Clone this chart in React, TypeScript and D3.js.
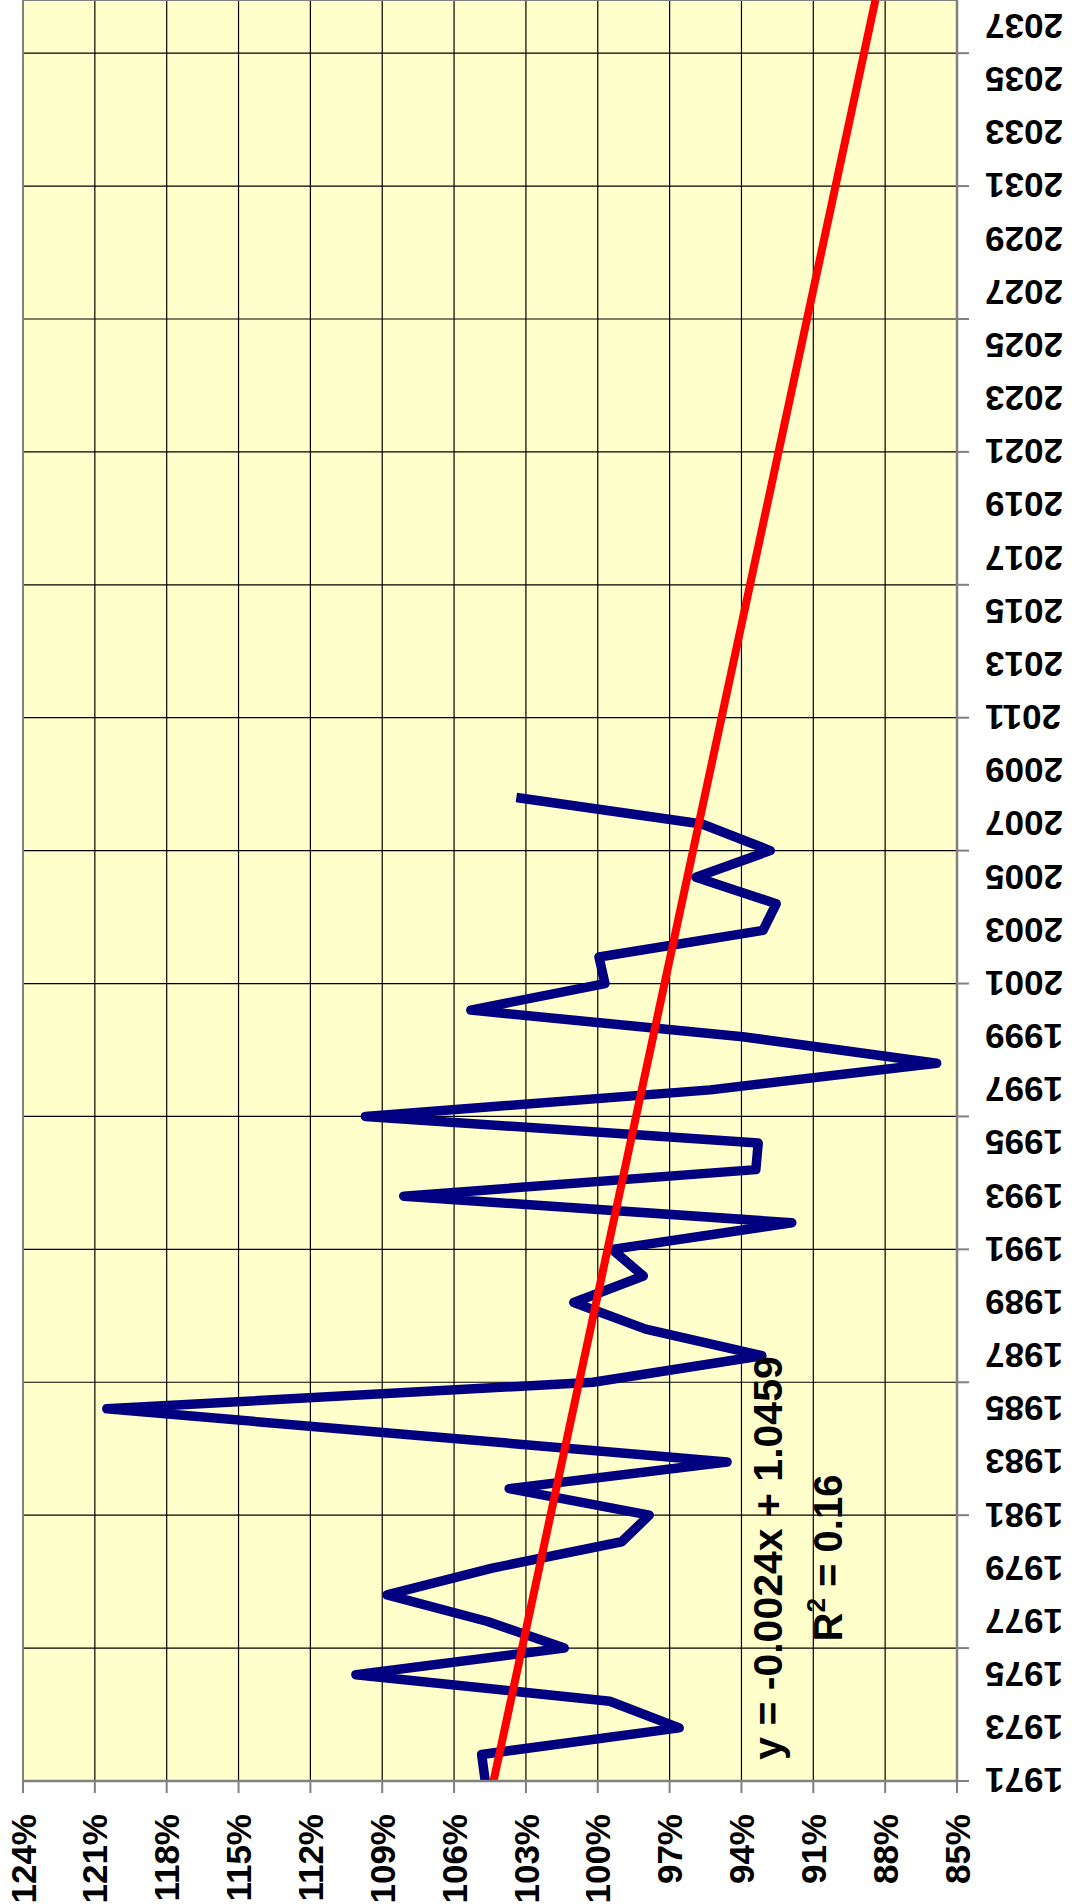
import * as d3 from "d3";

// yearly ratio (1.00 = 100%)
const years = [
  1971, 1972, 1973, 1974, 1975, 1976, 1977, 1978, 1979, 1980, 1981, 1982, 1983,
  1984, 1985, 1986, 1987, 1988, 1989, 1990, 1991, 1992, 1993, 1994, 1995, 1996,
  1997, 1998, 1999, 2000, 2001, 2002, 2003, 2004, 2005, 2006, 2007, 2008,
];
const ratio = [
  1.047, 1.0485, 0.966, 0.995, 1.101, 1.014, 1.046, 1.088, 1.0445, 0.99, 0.9785,
  1.037, 0.946, 1.075, 1.205, 1.002, 0.9315, 0.98, 1.01, 0.981, 0.994, 0.919,
  1.081, 0.934, 0.933, 1.097, 0.953, 0.8585, 0.9395, 1.053, 0.997, 0.9995,
  0.931, 0.9255, 0.959, 0.928, 0.9565, 1.034,
];

// value axis (shown along the bottom) and category axis (along the right)
const pctTicks = [124, 121, 118, 115, 112, 109, 106, 103, 100, 97, 94, 91, 88, 85];
const yearLabels = [
  1971, 1973, 1975, 1977, 1979, 1981, 1983, 1985, 1987, 1989, 1991, 1993, 1995,
  1997, 1999, 2001, 2003, 2005, 2007, 2009, 2011, 2013, 2015, 2017, 2019, 2021,
  2023, 2025, 2027, 2029, 2031, 2033, 2035, 2037,
];
const yearTicks = [
  1971, 1976, 1981, 1986, 1991, 1996, 2001, 2006, 2011, 2016, 2021, 2026, 2031,
  2036,
];
const firstYear = 1971;
const lastYear = 2038;

// linear trendline, x = 1 for 1971 (slope as drawn, label is rounded)
const trendSlope = -0.00238;
const trendIntercept = 1.0459;
const trendLabel = "y = -0.0024x + 1.0459";
const r2Value = "0.16";

const W = 1079;
const H = 1904;
const plot = { left: 23, right: 957, top: 0, bottom: 1781 };
const font = "'Liberation Sans', Arial, sans-serif";

export default function App() {
  const x = d3.scaleLinear().domain([1.24, 0.85]).range([plot.left, plot.right]);
  const y = d3.scaleLinear().domain([firstYear, lastYear]).range([plot.bottom, plot.top]);

  const series = years.map((yr, i) => [yr, ratio[i]] as [number, number]);
  const line = d3
    .line<[number, number]>()
    .x((d) => x(d[1]))
    .y((d) => y(d[0]));

  const trendAt = (yr: number) => trendIntercept + trendSlope * (yr - firstYear + 1);
  const trend = [firstYear, lastYear].map((yr) => [yr, trendAt(yr)] as [number, number]);

  const eqY = 1558;

  return (
    <svg
      width={W}
      height={H}
      style={{ position: "absolute", left: 0, top: 0, background: "#fff" }}
      fontFamily={font}
      fontWeight="bold"
    >
      <defs>
        <clipPath id="plotClip">
          <rect x={plot.left} y={plot.top} width={plot.right - plot.left} height={plot.bottom - plot.top} />
        </clipPath>
      </defs>
      <rect
        x={plot.left}
        y={plot.top}
        width={plot.right - plot.left}
        height={plot.bottom - plot.top}
        fill="#FFFFCC"
      />

      {/* gridlines */}
      {pctTicks.slice(1, -1).map((p) => (
        <line key={"gv" + p} x1={x(p / 100)} x2={x(p / 100)} y1={plot.top} y2={plot.bottom} stroke="#000" strokeWidth={1.2} />
      ))}
      {yearTicks.slice(1).map((yr) => (
        <line key={"gh" + yr} x1={plot.left} x2={plot.right} y1={y(yr)} y2={y(yr)} stroke="#000" strokeWidth={1.2} />
      ))}

      {/* plot border */}
      <rect
        x={plot.left}
        y={plot.top}
        width={plot.right - plot.left}
        height={plot.bottom - plot.top}
        fill="none"
        stroke="#808080"
        strokeWidth={2}
      />

      {/* series and trendline */}
      <g clipPath="url(#plotClip)">
        <path d={line(series) ?? ""} fill="none" stroke="#000080" strokeWidth={9.5} strokeLinejoin="round" />
        <path d={line(trend) ?? ""} fill="none" stroke="#FF0000" strokeWidth={8} />
      </g>

      {/* value axis along the bottom */}
      <line x1={plot.left} x2={plot.right} y1={plot.bottom} y2={plot.bottom} stroke="#808080" strokeWidth={2.5} />
      {pctTicks.map((p) => (
        <g key={"pt" + p}>
          <line x1={x(p / 100)} x2={x(p / 100)} y1={plot.bottom} y2={plot.bottom + 12} stroke="#808080" strokeWidth={2} />
          <text
            transform={`translate(${x(p / 100)},${plot.bottom + 33}) rotate(-90)`}
            textAnchor="end"
            dy="0.36em"
            fontSize={35}
          >
            {p}%
          </text>
        </g>
      ))}

      {/* category axis along the right */}
      <line x1={plot.right} x2={plot.right} y1={plot.top} y2={plot.bottom} stroke="#808080" strokeWidth={2.5} />
      {yearTicks.map((yr) => (
        <line key={"yt" + yr} x1={plot.right} x2={plot.right + 12} y1={y(yr)} y2={y(yr)} stroke="#808080" strokeWidth={2} />
      ))}
      {yearLabels.map((yr) => (
        <text
          key={"yl" + yr}
          transform={`translate(${plot.right + 28},${y(yr)}) rotate(180)`}
          textAnchor="end"
          dy="0.36em"
          fontSize={35}
        >
          {yr}
        </text>
      ))}

      {/* trendline equation */}
      <text transform={`translate(782,${eqY}) rotate(-90)`} textAnchor="middle" fontSize={41}>
        {trendLabel}
      </text>
      <text transform={`translate(842,${eqY}) rotate(-90)`} textAnchor="middle" fontSize={40}>
        R<tspan fontSize={26} dy={-17}>2</tspan>
        <tspan dy={17}>{" = " + r2Value}</tspan>
      </text>
    </svg>
  );
}
